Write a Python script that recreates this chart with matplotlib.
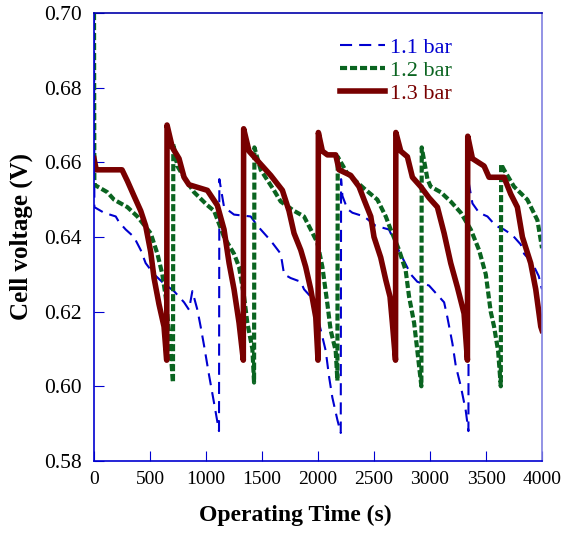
import matplotlib
matplotlib.use("Agg")
import matplotlib.pyplot as plt

plt.rcParams['font.family'] = ['Liberation Serif', 'DejaVu Serif']

# 1.1 bar
t_11 = [0, 3, 89, 194, 223, 283, 357, 417, 461, 536, 625, 714, 804, 848, 878, 923, 952,
        982, 1027, 1072, 1116, 1119, 1161, 1250, 1399, 1459, 1578, 1667, 1697, 1756, 1846,
        1875, 1935, 1994, 2009, 2069, 2099, 2128, 2173, 2203, 2206, 2218, 2262, 2307, 2411,
        2515, 2634, 2694, 2753, 2828, 2887, 2991, 3036, 3126, 3155, 3200, 3230, 3275, 3319,
        3343, 3346, 3379, 3438, 3513, 3587, 3661, 3736, 3810, 3840, 3914, 3971, 3995, 4000]
v_11 = [0.700, 0.648, 0.6465, 0.6455, 0.644, 0.642, 0.640, 0.6365, 0.633, 0.630, 0.6275,
        0.6255, 0.6225, 0.6205, 0.6255, 0.6205, 0.616, 0.611, 0.603, 0.5955, 0.588, 0.6555,
        0.648, 0.646, 0.6455, 0.643, 0.639, 0.6355, 0.630, 0.629, 0.628, 0.626, 0.624, 0.621,
        0.617, 0.6095, 0.6025, 0.597, 0.591, 0.5875, 0.6555, 0.651, 0.6475, 0.6465, 0.6455,
        0.643, 0.642, 0.638, 0.6345, 0.630, 0.628, 0.627, 0.6255, 0.6225, 0.6185, 0.6115,
        0.6055, 0.600, 0.5935, 0.588, 0.6545, 0.649, 0.6465, 0.6455, 0.643, 0.642, 0.6405,
        0.638, 0.6355, 0.633, 0.6295, 0.6265, 0.626]

# 1.2 bar
t_12 = [0, 3, 119, 179, 298, 387, 506, 566, 610, 640, 679, 705, 708, 744, 804, 893, 1012,
        1072, 1161, 1250, 1295, 1340, 1369, 1414, 1429, 1432, 1488, 1607, 1667, 1786, 1875,
        1935, 1994, 2039, 2084, 2113, 2158, 2173, 2176, 2262, 2411, 2530, 2605, 2649, 2724,
        2783, 2813, 2858, 2887, 2923, 2926, 2977, 3006, 3096, 3185, 3275, 3364, 3438, 3498,
        3542, 3572, 3608, 3632, 3635, 3661, 3750, 3869, 3959, 3995, 4000]
v_12 = [0.700, 0.654, 0.652, 0.650, 0.648, 0.6455, 0.641, 0.6355, 0.630, 0.624, 0.6115,
        0.601, 0.665, 0.659, 0.656, 0.652, 0.6485, 0.647, 0.640, 0.6355, 0.632, 0.624, 0.617,
        0.610, 0.601, 0.664, 0.658, 0.6525, 0.6495, 0.647, 0.6455, 0.642, 0.6385, 0.632,
        0.622, 0.615, 0.6095, 0.6015, 0.6615, 0.657, 0.653, 0.650, 0.6455, 0.642, 0.6365,
        0.631, 0.624, 0.617, 0.6095, 0.600, 0.664, 0.6555, 0.6535, 0.652, 0.6495, 0.6465,
        0.642, 0.6365, 0.630, 0.620, 0.616, 0.6095, 0.600, 0.6595, 0.658, 0.6535, 0.650,
        0.6445, 0.638, 0.637]

# 1.3 bar
t_13 = [0, 20, 250, 298, 357, 417, 461, 506, 536, 580, 625, 649, 652, 699, 759, 804, 848,
        1012, 1101, 1161, 1206, 1250, 1295, 1333, 1336, 1384, 1473, 1578, 1682, 1741, 1786,
        1846, 1890, 1935, 1980, 2000, 2003, 2039, 2084, 2158, 2188, 2292, 2366, 2411, 2471,
        2500, 2560, 2605, 2643, 2664, 2692, 2695, 2739, 2798, 2843, 2917, 2991, 3066, 3126,
        3185, 3245, 3304, 3334, 3337, 3379, 3483, 3527, 3661, 3721, 3780, 3825, 3899, 3944,
        3989, 4000]
v_13 = [0.661, 0.658, 0.658, 0.655, 0.651, 0.647, 0.643, 0.636, 0.629, 0.622, 0.616, 0.607,
        0.670, 0.664, 0.661, 0.656, 0.654, 0.6525, 0.6485, 0.642, 0.633, 0.626, 0.617, 0.607,
        0.669, 0.663, 0.660, 0.6565, 0.6525, 0.647, 0.641, 0.6365, 0.632, 0.626, 0.6185,
        0.607, 0.668, 0.663, 0.662, 0.662, 0.658, 0.6565, 0.6535, 0.650, 0.6455, 0.640,
        0.6345, 0.6285, 0.624, 0.617, 0.607, 0.668, 0.663, 0.6615, 0.656, 0.6535, 0.6505,
        0.648, 0.641, 0.633, 0.6265, 0.6195, 0.607, 0.667, 0.661, 0.659, 0.656, 0.656,
        0.6515, 0.648, 0.640, 0.633, 0.626, 0.616, 0.615]

blue = '#0000d0'
green = '#0a6420'
red = '#780000'

fig = plt.figure(figsize=(5.64, 5.36), dpi=100)
ax = fig.add_axes([0.1667, 0.140, 0.7943, 0.8357])

ax.plot(t_11, v_11, color=blue, lw=1.5, dashes=[5.8, 3.4], label='1.1 bar')
ax.plot(t_12, v_12, color=green, lw=3, dashes=[1.7, 0.7], label='1.2 bar')
ax.plot(t_13, v_13, color=red, lw=4, label='1.3 bar')

ax.set_xlim(0, 4000)
ax.set_ylim(0.58, 0.70)
ax.set_xticks(range(0, 4001, 500))
ax.set_yticks([0.58, 0.60, 0.62, 0.64, 0.66, 0.68, 0.70])
ax.set_yticklabels(['0.58', '0.60', '0.62', '0.64', '0.66', '0.68', '0.70'])
ax.tick_params(direction='in', length=7, color=blue, top=False, right=False)
ax.tick_params(axis='x', labelsize=14, pad=7)
ax.tick_params(axis='y', labelsize=15.5, pad=9)

for side, c in [('left', blue), ('bottom', blue), ('top', '#0000aa'), ('right', '#8080e0')]:
    ax.spines[side].set_color(c)
    ax.spines[side].set_linewidth(1.2)

ax.set_xlabel('Operating Time (s)', fontsize=17, fontweight='bold')
ax.set_ylabel('Cell voltage (V)', fontsize=18, fontweight='bold')
ax.xaxis.set_label_coords(0.449, -0.097)
ax.yaxis.set_label_coords(-0.136, 0.5)

ax.legend(loc='upper left', bbox_to_anchor=(0.525, 0.97), frameon=False, fontsize=16,
          handlelength=2.0, handletextpad=0.25, labelspacing=0.1, borderpad=0,
          labelcolor='linecolor')

fig.savefig('out.png', dpi=100)
